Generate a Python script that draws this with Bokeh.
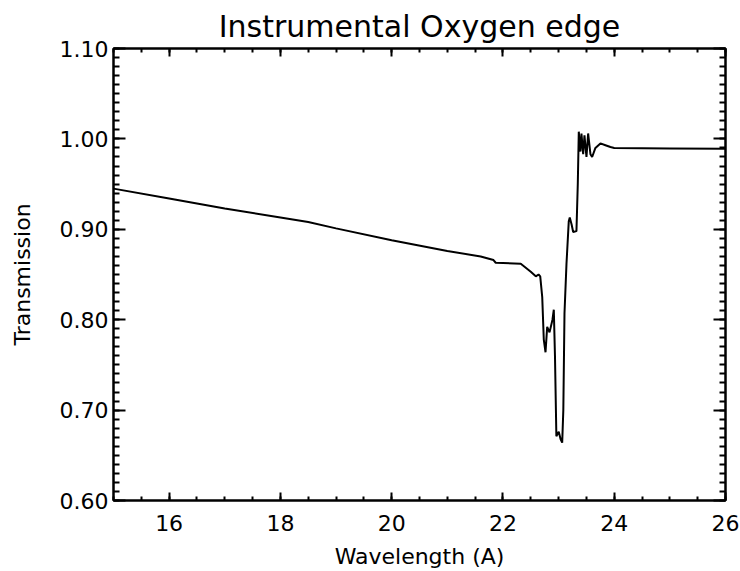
from bokeh.plotting import figure
from bokeh.models import (LinearAxis, SingleIntervalTicker, PrintfTickFormatter, Range1d,
                          ColumnDataSource, CustomJSTickFormatter)
from bokeh.embed import file_html
from bokeh.resources import INLINE

# Data
wavelength = [15.0, 16.0, 17.0, 18.0, 18.5, 19.0, 20.0, 21.0, 21.6, 21.83, 21.87, 22.32,
              22.50, 22.59, 22.64, 22.67, 22.706, 22.734, 22.765, 22.795, 22.837, 22.89,
              22.914, 22.935, 22.96, 23.003, 23.035, 23.065, 23.085, 23.106, 23.142, 23.183,
              23.201, 23.235, 23.262, 23.321, 23.345, 23.363, 23.393, 23.411, 23.442, 23.465,
              23.501, 23.531, 23.573, 23.603, 23.662, 23.752, 23.842, 23.932, 24.0, 25.0, 26.0]
transmission = [0.945, 0.934, 0.923, 0.913, 0.908, 0.901, 0.888, 0.876, 0.870, 0.866, 0.863, 0.862,
                0.853, 0.848, 0.850, 0.848, 0.825, 0.778, 0.764, 0.792, 0.786, 0.800,
                0.811, 0.760, 0.671, 0.676, 0.668, 0.664, 0.700, 0.807, 0.862, 0.909,
                0.913, 0.905, 0.897, 0.898, 0.950, 1.008, 0.986, 1.006, 0.983, 1.004,
                0.980, 1.006, 0.983, 0.980, 0.990, 0.995, 0.993, 0.991, 0.990, 0.9895, 0.989]

x_ticks_interval = 2
y_ticks_interval = 0.1

FONT = "DejaVu Sans"

source = ColumnDataSource(data=dict(x=wavelength, y=transmission))

p = figure(width=740, height=571, output_backend="svg", toolbar_location=None,
           x_range=Range1d(15, 26), y_range=Range1d(0.6, 1.1),
           min_border_left=113, min_border_right=15, min_border_top=48, min_border_bottom=71,
           title="Instrumental Oxygen edge",
           x_axis_label="Wavelength (A)", y_axis_label="Transmission")

p.line("x", "y", source=source, line_color="black", line_width=2)

p.xgrid.visible = False
p.ygrid.visible = False
p.outline_line_color = "black"
p.outline_line_width = 2
p.background_fill_color = "white"
p.border_fill_color = "white"

p.title.align = "center"
p.title.text_font = FONT
p.title.text_font_size = "30px"
p.title.text_font_style = "normal"
p.title.text_color = "black"
p.title.standoff = 10

def style_axis(ax, major, minor, labels=True):
    ax.major_tick_in = major
    ax.major_tick_out = 0
    ax.minor_tick_in = minor
    ax.minor_tick_out = 0
    ax.axis_line_color = "black"
    ax.axis_line_width = 2
    ax.major_tick_line_color = "black"
    ax.major_tick_line_width = 2
    ax.minor_tick_line_color = "black"
    ax.minor_tick_line_width = 2
    ax.major_label_text_font = FONT
    ax.major_label_text_color = "black"
    ax.axis_label_text_font = FONT
    ax.axis_label_text_font_style = "normal"
    ax.axis_label_text_color = "black"
    ax.major_label_text_font_size = "22px"
    ax.axis_label_text_font_size = "22px"
    if not labels:
        ax.formatter = CustomJSTickFormatter(code="return ''")
        ax.major_label_standoff = 0

xt = SingleIntervalTicker(interval=x_ticks_interval, num_minor_ticks=4)
yt = SingleIntervalTicker(interval=y_ticks_interval, num_minor_ticks=10)

p.xaxis.ticker = xt
p.yaxis.ticker = yt
p.yaxis.formatter = PrintfTickFormatter(format="%.2f")
style_axis(p.xaxis[0], 8, 4)
style_axis(p.yaxis[0], 12, 6)
p.xaxis.major_label_standoff = 14
p.xaxis.axis_label_standoff = 10
p.yaxis.major_label_standoff = 5
p.yaxis.axis_label_standoff = 22

top = LinearAxis(ticker=SingleIntervalTicker(interval=x_ticks_interval, num_minor_ticks=4))
style_axis(top, 8, 4, labels=False)
p.add_layout(top, "above")
right = LinearAxis(ticker=SingleIntervalTicker(interval=y_ticks_interval, num_minor_ticks=10))
style_axis(right, 12, 6, labels=False)
p.add_layout(right, "right")

open("out.html", "w").write(file_html(p, INLINE))
